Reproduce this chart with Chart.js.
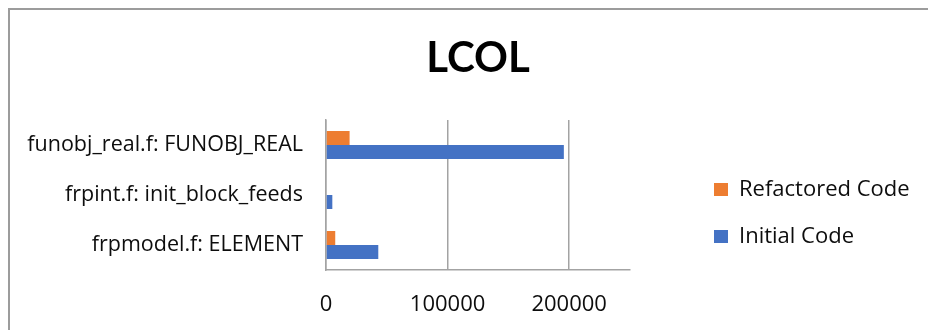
<!DOCTYPE html>
<html>
<head>
<meta charset="utf-8">
<title>LCOL</title>
<script src="https://cdn.jsdelivr.net/npm/chart.js@4.4.1/dist/chart.umd.min.js"></script>
<style>
  html, body { margin: 0; padding: 0; background: #ffffff; overflow: hidden; }
  #wrap { position: relative; width: 928px; height: 330px; overflow: hidden; }
  #frame { position: absolute; left: 8px; top: 8px; width: 940px; height: 340px;
           border: 2px solid #9c9c9c; box-sizing: border-box; pointer-events: none; }
  canvas { position: absolute; left: 0; top: 0; }
</style>
</head>
<body>
<div id="wrap">
  <div id="frame"></div>
  <canvas id="chart" width="928" height="330"></canvas>
</div>
<script>
// Routines, top to bottom
const categories = [
  'funobj_real.f: FUNOBJ_REAL',
  'frpint.f: init_block_feeds',
  'frpmodel.f: ELEMENT'
];

// Timings per routine
const refactoredCode = [19400, 0, 7600];
const initialCode = [195600, 5200, 43000];

// Value axis
const axisMax = 250000;
const tickValues = [0, 100000, 200000];
const tickLabels = ['0', '100000', '200000'];

const seriesNames = ['Refactored Code', 'Initial Code'];
const seriesColors = ['#ED7D31', '#4472C4'];

const gridColor = '#a3a3a3';
const textColor = '#0d0d0d';
const labelFont = "'Open Sans', 'Noto Sans', sans-serif";

// Moves the legend block to a fixed spot beside the plot once the layout is done.
const legendPlacement = {
  id: 'legendPlacement',
  afterLayout(chart, args, opts) {
    const lg = chart.legend;
    if (!lg) return;
    lg.left = opts.left;
    lg.right = opts.right;
    lg.width = opts.right - opts.left;
    lg.top = opts.top;
    lg.bottom = opts.bottom;
    lg.height = opts.bottom - opts.top;
  }
};

Chart.defaults.font.family = labelFont;
Chart.defaults.color = textColor;

new Chart(document.getElementById('chart'), {
  type: 'bar',
  data: {
    labels: categories,
    datasets: [
      {
        label: seriesNames[0],
        data: refactoredCode,
        backgroundColor: seriesColors[0],
        xAxisID: 'x',
        yAxisID: 'y'
      },
      {
        label: seriesNames[1],
        data: initialCode,
        backgroundColor: seriesColors[1],
        xAxisID: 'x',
        yAxisID: 'y'
      }
    ]
  },
  plugins: [legendPlacement],
  options: {
    indexAxis: 'y',
    responsive: false,
    animation: false,
    events: [],
    barPercentage: 1,
    categoryPercentage: 0.56,
    layout: {
      padding: { left: 10, right: 148, top: 0, bottom: 0 }
    },
    plugins: {
      title: {
        display: true,
        fullSize: false,
        text: 'LCOL',
        color: '#000000',
        font: { family: "Lato, 'Open Sans', sans-serif", size: 42, weight: 'bold', lineHeight: 1.2 },
        padding: { top: 32.8, bottom: 36.8 }
      },
      legend: {
        display: true,
        position: 'right',
        align: 'start',
        fullSize: false,
        maxWidth: 150,
        labels: {
          boxWidth: 14,
          boxHeight: 13,
          padding: 25,
          color: textColor,
          font: { size: 22 }
        }
      },
      legendPlacement: { left: 689, right: 928, top: 153.5, bottom: 310 },
      tooltip: { enabled: false }
    },
    scales: {
      x: {
        type: 'linear',
        position: 'bottom',
        min: 0,
        max: axisMax,
        afterBuildTicks(scale) {
          scale.ticks = tickValues.map(v => ({ value: v }));
        },
        afterFit(scale) { scale.height = 60; },
        ticks: {
          padding: 22,
          color: textColor,
          font: { size: 22 },
          maxRotation: 0,
          autoSkip: false,
          callback: (value, i) => tickLabels[i]
        },
        grid: {
          display: true,
          drawTicks: false,
          color: gridColor,
          lineWidth: 1.5
        },
        border: { display: true, color: gridColor, width: 1.5 }
      },
      y: {
        type: 'category',
        position: 'left',
        afterFit(scale) { scale.width = 316; },
        ticks: {
          padding: 23,
          color: textColor,
          font: { size: 21.5 }
        },
        grid: { display: false, drawTicks: false },
        border: { display: true, color: gridColor, width: 1.5 }
      }
    }
  }
});
</script>
</body>
</html>
